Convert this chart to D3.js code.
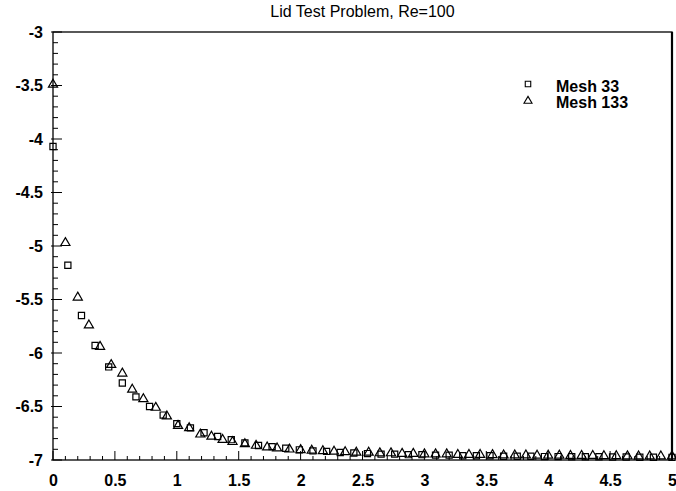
<!DOCTYPE html>
<html>
<head>
<meta charset="utf-8">
<script src="https://cdn.jsdelivr.net/npm/d3@7"></script>
<style>
  body { margin: 0; background: #fff; }
  text { font-family: "Liberation Sans", Arial, sans-serif; fill: #000; }
</style>
</head>
<body>
<div id="chart"></div>
<script>
// chart size
const width = 676;
const height = 491;
const margin = {top: 32, right: 4, bottom: 31, left: 53};

// Mesh 33 (squares)
const mesh33X = [0, 0.12, 0.23, 0.34, 0.45, 0.56, 0.67, 0.78, 0.89, 1.0, 1.11, 1.22, 1.33, 1.44, 1.55, 1.66, 1.77, 1.88, 1.99,
  2.1, 2.21, 2.32, 2.43, 2.54, 2.65, 2.76, 2.87, 2.98, 3.09, 3.2, 3.31, 3.42, 3.53, 3.64, 3.75, 3.86, 3.97,
  4.08, 4.19, 4.3, 4.41, 4.52, 4.63, 4.74, 4.85, 5.0];
const mesh33Y = [-4.07, -5.18, -5.65, -5.93, -6.13, -6.28, -6.41, -6.5, -6.58, -6.66, -6.7, -6.745, -6.78, -6.81, -6.84, -6.865, -6.875, -6.89, -6.905,
  -6.915, -6.92, -6.93, -6.935, -6.94, -6.945, -6.945, -6.95, -6.95, -6.955, -6.955, -6.96, -6.96, -6.96, -6.965, -6.965, -6.965, -6.968,
  -6.968, -6.97, -6.97, -6.97, -6.972, -6.972, -6.974, -6.974, -6.975];

// Mesh 133 (triangles)
const mesh133X = [0, 0.1, 0.2, 0.29, 0.38, 0.47, 0.56, 0.64, 0.73, 0.83, 0.92, 1.01, 1.1, 1.19, 1.28, 1.37, 1.45, 1.55, 1.64, 1.73, 1.81, 1.91,
  2.0, 2.09, 2.18, 2.27, 2.36, 2.45, 2.55, 2.64, 2.73, 2.82, 2.91, 3.0, 3.09, 3.18, 3.27, 3.36, 3.45, 3.55, 3.64, 3.73, 3.82, 3.91,
  4.0, 4.09, 4.18, 4.27, 4.36, 4.45, 4.55, 4.64, 4.73, 4.82, 4.91, 5.0];
const mesh133Y = [-3.5, -4.98, -5.49, -5.75, -5.95, -6.12, -6.2, -6.35, -6.44, -6.52, -6.6, -6.69, -6.71, -6.77, -6.79, -6.82, -6.84, -6.86, -6.875, -6.89, -6.9, -6.91,
  -6.915, -6.92, -6.925, -6.93, -6.935, -6.94, -6.94, -6.945, -6.945, -6.95, -6.95, -6.955, -6.955, -6.955, -6.96, -6.96, -6.96, -6.962, -6.965, -6.965, -6.965, -6.967,
  -6.968, -6.968, -6.97, -6.97, -6.97, -6.972, -6.972, -6.973, -6.974, -6.974, -6.975, -6.975];

const xTicks = [0, 0.5, 1, 1.5, 2, 2.5, 3, 3.5, 4, 4.5, 5];
const yTicks = [-3, -3.5, -4, -4.5, -5, -5.5, -6, -6.5, -7];
const minorTicksX = d3.range(0, 51).map(i => i / 10);
const minorTicksY = d3.range(30, 71).map(i => -i / 10);

const svg = d3.select("#chart")
  .append("svg")
  .attr("width", width)
  .attr("height", height);

const x = d3.scaleLinear().domain([0, 5]).range([margin.left, width - margin.right]);
const y = d3.scaleLinear().domain([-7, -3]).range([height - margin.bottom, margin.top]);

// frame
svg.append("rect")
  .attr("x", margin.left).attr("y", margin.top)
  .attr("width", x(5) - x(0)).attr("height", y(-7) - y(-3))
  .attr("fill", "none").attr("stroke", "#000").attr("stroke-width", 1.3);
svg.append("line")
  .attr("x1", x(5)).attr("x2", x(5)).attr("y1", y(-3)).attr("y2", y(-7))
  .attr("stroke", "#000").attr("stroke-width", 2.2);

// minor + major ticks
svg.append("g").selectAll("line").data(minorTicksX).enter().append("line")
  .attr("x1", d => x(d)).attr("x2", d => x(d))
  .attr("y1", y(-7)).attr("y2", d => y(-7) - (xTicks.includes(d) ? 9 : 4))
  .attr("stroke", "#000").attr("stroke-width", 1);
svg.append("g").selectAll("line").data(minorTicksY).enter().append("line")
  .attr("y1", d => y(d)).attr("y2", d => y(d))
  .attr("x1", d => x(0) - (yTicks.includes(d) ? 2 : 0)).attr("x2", d => x(0) + (yTicks.includes(d) ? 9 : 5))
  .attr("stroke", "#000").attr("stroke-width", 1);

// axes labels (plain hyphen like the original)
const fmt = d => String(d);
const xAxis = d3.axisBottom(x).tickValues(xTicks).tickSize(0).tickPadding(15).tickFormat(fmt);
const gx = svg.append("g").attr("transform", `translate(0,${y(-7)})`).call(xAxis);
gx.select(".domain").remove();
gx.selectAll("text").style("font-size", "16px").style("font-weight", "bold")
  .style("font-family", "'Liberation Sans', Arial, sans-serif");

const yAxis = d3.axisLeft(y).tickValues(yTicks).tickSize(0).tickPadding(10).tickFormat(fmt);
const gy = svg.append("g").attr("transform", `translate(${x(0)},0)`).call(yAxis);
gy.select(".domain").remove();
gy.selectAll("text").style("font-size", "16px").style("font-weight", "bold")
  .style("font-family", "'Liberation Sans', Arial, sans-serif");

// title
svg.append("text")
  .attr("x", (x(0) + x(5)) / 2).attr("y", 17)
  .attr("text-anchor", "middle")
  .style("font-size", "16px")
  .text("Lid Test Problem, Re=100");

const square = d3.symbol().type(d3.symbolSquare).size(38);
const triangle = d3.symbol().type(d3.symbolTriangle).size(36);

const pts33 = mesh33X.map((d, i) => [d, mesh33Y[i]]);
const pts133 = mesh133X.map((d, i) => [d, mesh133Y[i]]);

svg.append("g").selectAll("path").data(pts33).enter().append("path")
  .attr("d", square)
  .attr("transform", d => `translate(${x(d[0])},${y(d[1])})`)
  .attr("fill", "none").attr("stroke", "#000").attr("stroke-width", 1.2);

svg.append("g").selectAll("path").data(pts133).enter().append("path")
  .attr("d", triangle)
  .attr("transform", d => `translate(${x(d[0])},${y(d[1]) - 1})`)
  .attr("fill", "none").attr("stroke", "#000").attr("stroke-width", 1.2);

// legend
const legend = svg.append("g");
legend.append("path").attr("d", d3.symbol().type(d3.symbolSquare).size(30)).attr("transform", "translate(528,84)")
  .attr("fill", "none").attr("stroke", "#000").attr("stroke-width", 1.1);
legend.append("path").attr("d", d3.symbol().type(d3.symbolTriangle).size(28)).attr("transform", "translate(528,101)")
  .attr("fill", "none").attr("stroke", "#000").attr("stroke-width", 1.1);
legend.append("text").attr("x", 556).attr("y", 92).style("font-size", "16px").style("font-weight", "bold").text("Mesh 33");
legend.append("text").attr("x", 556).attr("y", 108).style("font-size", "16px").style("font-weight", "bold").text("Mesh 133");
</script>
</body>
</html>
